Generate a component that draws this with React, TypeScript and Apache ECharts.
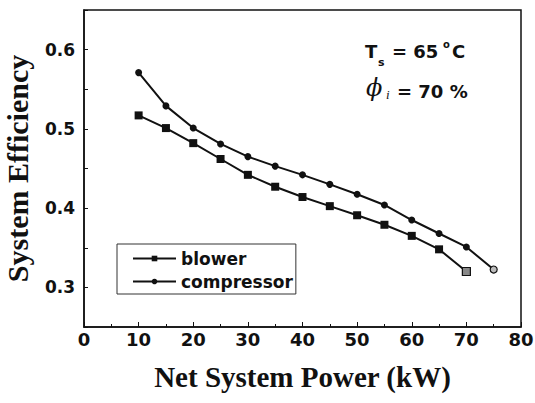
import React, { useEffect, useRef } from "react";
import * as echarts from "echarts";

const powerBlower = [10, 15, 20, 25, 30, 35, 40, 45, 50, 55, 60, 65, 70];
const effBlower = [0.517, 0.501, 0.482, 0.462, 0.442, 0.427, 0.414, 0.4025, 0.391, 0.379, 0.365, 0.348, 0.32];
const powerCompressor = [10, 15, 20, 25, 30, 35, 40, 45, 50, 55, 60, 65, 70, 75];
const effCompressor = [0.571, 0.529, 0.501, 0.481, 0.465, 0.453, 0.442, 0.43, 0.4175, 0.404, 0.385, 0.368, 0.351, 0.3225];
const xTicks = [0, 80, 10];
const yTicks = [0.25, 0.65, 0.05];
const yLabels = ["0.3", "0.4", "0.5", "0.6"];

const tickFont = "'DejaVu Sans', sans-serif";
const titleFont = "'Liberation Serif', 'Times New Roman', serif";

export default function App() {
  const ref = useRef<HTMLDivElement>(null);
  useEffect(() => {
    if (!ref.current) return;
    const chart = echarts.init(ref.current, null, { renderer: "svg" });
    const blowerData = powerBlower.map((x, i) => {
      const last = i === powerBlower.length - 1;
      return last
        ? { value: [x, effBlower[i]], itemStyle: { color: "#888", borderColor: "#111", borderWidth: 1.2 } }
        : [x, effBlower[i]];
    });
    const compData = powerCompressor.map((x, i) => {
      const last = i === powerCompressor.length - 1;
      return last
        ? { value: [x, effCompressor[i]], itemStyle: { color: "#bbb", borderColor: "#111", borderWidth: 1.2 } }
        : [x, effCompressor[i]];
    });
    chart.setOption({
      animation: false,
      backgroundColor: "#fff",
      grid: {
        left: 84, right: 14, top: 10, bottom: 76,
        outerBoundsMode: "none",
        containLabel: false,
        show: true, borderColor: "#111", borderWidth: 1.5, backgroundColor: "transparent",
      },
      xAxis: {
        type: "value",
        min: xTicks[0],
        max: xTicks[1],
        interval: xTicks[2],
        name: "Net System Power (kW)",
        nameLocation: "middle",
        nameGap: 35,
        nameTextStyle: { fontFamily: titleFont, fontWeight: "bold", fontSize: 29, color: "#111" },
        axisLine: { show: true, onZero: false, lineStyle: { color: "#111", width: 1.5 } },
        axisTick: { show: true, inside: true, length: 5, lineStyle: { color: "#111" } },
        minorTick: { show: true, splitNumber: 2, length: 3, lineStyle: { color: "#111" } },
        splitLine: { show: false },
        axisLabel: { fontFamily: tickFont, fontWeight: "bold", fontSize: 18, color: "#111", margin: 3, showMaxLabel: true },
      },
      yAxis: {
        type: "value",
        min: yTicks[0],
        max: yTicks[1],
        interval: yTicks[2],
        name: "System Efficiency",
        nameLocation: "middle",
        nameGap: 52,
        nameTextStyle: { fontFamily: titleFont, fontWeight: "bold", fontSize: 30, color: "#111" },
        axisLine: { show: true, onZero: false, lineStyle: { color: "#111", width: 1.5 } },
        axisTick: { show: true, inside: true, length: 4, lineStyle: { color: "#111" } },
        splitLine: { show: false },
        axisLabel: {
          fontFamily: tickFont,
          fontWeight: "bold",
          fontSize: 17,
          color: "#111",
          margin: 9,
          formatter: (v: number) => {
            const s = v.toFixed(2);
            const t = v.toFixed(1);
            return s.endsWith("0") && yLabels.includes(t) ? t : "";
          },
        },
      },
      legend: {
        left: 117,
        top: 244,
        orient: "vertical",
        itemWidth: 43,
        itemHeight: 7,
        itemGap: 6,
        padding: [6, 3, 4, 15],
        borderColor: "#333",
        borderWidth: 1,
        borderRadius: 0,
        textStyle: { fontFamily: tickFont, fontWeight: "bold", fontSize: 17, color: "#111" },
        data: ["blower", "compressor"],
      },
      series: [
        {
          name: "blower",
          type: "line",
          data: blowerData,
          symbol: "rect",
          symbolSize: 8,
          lineStyle: { color: "#111", width: 2 },
          itemStyle: { color: "#111" },
        },
        {
          name: "compressor",
          type: "line",
          data: compData,
          symbol: "circle",
          symbolSize: 7,
          lineStyle: { color: "#111", width: 2 },
          itemStyle: { color: "#111" },
        },
      ],
      graphic: [
        { type: "text", left: 365, top: 42, style: { text: "T", font: `bold 18px ${tickFont}`, fill: "#111" } },
        { type: "text", left: 378, top: 57, style: { text: "s", font: `bold 11px ${tickFont}`, fill: "#111" } },
        { type: "text", left: 392, top: 42, style: { text: "= 65", font: `bold 18px ${tickFont}`, fill: "#111" } },
        { type: "text", left: 443, top: 39, style: { text: "o", font: `bold 10px ${tickFont}`, fill: "#111" } },
        { type: "text", left: 452, top: 42, style: { text: "C", font: `bold 18px ${tickFont}`, fill: "#111" } },
        { type: "text", left: 366, top: 76, style: { text: "ϕ", font: `italic 24px 'DejaVu Serif', serif`, fill: "#111" } },
        { type: "text", left: 386, top: 88, style: { text: "i", font: `italic 13px ${titleFont}`, fill: "#111" } },
        { type: "text", left: 397, top: 82, style: { text: "= 70 %", font: `bold 18px ${tickFont}`, fill: "#111" } },
      ],
    });
    return () => chart.dispose();
  }, []);
  return <div ref={ref} style={{ position: "fixed", left: 0, top: 0, width: 535, height: 403 }} />;
}
